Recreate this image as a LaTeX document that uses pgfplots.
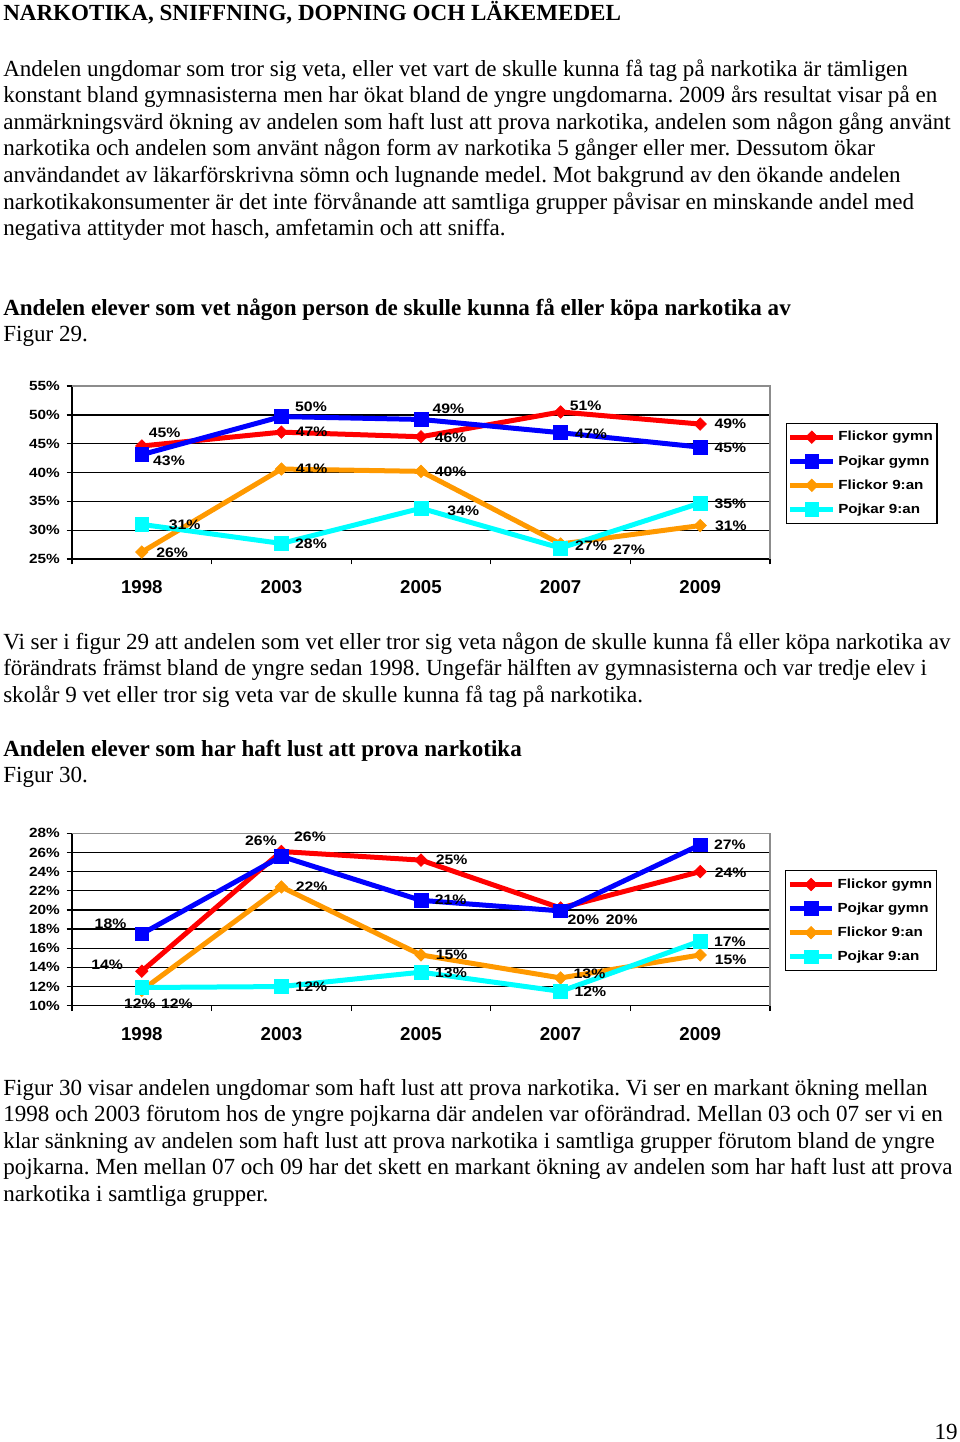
\documentclass[border=0pt]{standalone}
\usepackage{fontspec}
\setmainfont{Liberation Serif}
\newfontfamily\chartw{Liberation Sans}[FakeStretch=1.15]
\newfontfamily\chartn{Liberation Sans}
\usepackage{pgfplots}
\pgfplotsset{compat=1.18}
\frenchspacing
\definecolor{cred}{RGB}{255,0,0}
\definecolor{cblue}{RGB}{0,0,255}
\definecolor{corange}{RGB}{255,153,0}
\definecolor{ccyan}{RGB}{0,255,255}
\newcommand\bodyfont{\fontsize{17.3pt}{19.9pt}\selectfont}
\newcommand\tl[2]{\node[anchor=base west,inner sep=0pt,font=\bodyfont] at ({3*0.75pt},{-#1*0.75pt}) {#2};}
\newcommand\tlb[2]{\node[anchor=base west,inner sep=0pt,font=\bodyfont\bfseries] at ({3*0.75pt},{-#1*0.75pt}) {#2};}
\newcommand\dlfont{\chartw\bfseries\fontsize{10.3pt}{12pt}\selectfont}
\newcommand\dl[3]{\node[font=\dlfont,inner sep=0pt] at (axis cs:#1,#2) {#3\%};}
\pgfplotsset{mychart/.style={
  scale only axis, width=523.5pt,
  xmin=-0.5, xmax=4.5,
  axis x line*=bottom, axis y line*=left,
  axis line style={black,line width=1pt},
  tick align=outside, major tick length=4pt,
  tick style={black,line width=1pt},
  xtick={-0.5,0.5,1.5,2.5,3.5,4.5}, xticklabels={,,,,,},
  extra x ticks={0,1,2,3,4},
  extra x tick labels={1998,2003,2005,2007,2009},
  extra x tick style={major tick length=0pt, xticklabel style={font=\chartn\bfseries\fontsize{14pt}{16pt}\selectfont, anchor=base, yshift=-26pt}},
  ymajorgrids, grid style={black,line width=1pt},
  yticklabel style={font=\chartw\bfseries\fontsize{10pt}{11pt}\selectfont, anchor=east, inner sep=0pt, xshift=-5pt},
  extra y tick style={grid=none},
  clip=false,
  legend style={draw=black, line width=1pt, font=\chartw\bfseries\fontsize{9.9pt}{11pt}\selectfont, anchor=north west, row sep=5.4pt, inner xsep=1.2pt, inner ysep=4pt},
  legend cell align=left,
  legend image code/.code={\draw[mark repeat=2,mark phase=2,#1] plot coordinates {(0pt,0pt) (16pt,0pt) (32pt,0pt)};},
}}
\pgfplotsset{
 sred/.style={cred, line width=3.75pt, mark=square*, mark size=3.3pt, mark options={rotate=45, solid, line width=0.5pt}},
 sblue/.style={cblue, line width=3.75pt, mark=square*, mark size=5.2pt, mark options={solid, line width=0.5pt}},
 sorange/.style={corange, line width=3.75pt, mark=square*, mark size=3.3pt, mark options={rotate=45, solid, line width=0.5pt}},
 scyan/.style={ccyan, line width=3.75pt, mark=square*, mark size=5.2pt, mark options={solid, line width=0.5pt}},
}
\begin{document}
\begin{tikzpicture}
\useasboundingbox (0pt,0pt) rectangle (720pt,-1081.5pt);
\tlb{21}{NARKOTIKA, SNIFFNING, DOPNING OCH LÄKEMEDEL}
\tl{76}{Andelen ungdomar som tror sig veta, eller vet vart de skulle kunna få tag på narkotika är tämligen}
\tl{102.6}{konstant bland gymnasisterna men har ökat bland de yngre ungdomarna. 2009 års resultat visar på en}
\tl{129.2}{anmärkningsvärd ökning av andelen som haft lust att prova narkotika, andelen som någon gång använt}
\tl{155.8}{narkotika och andelen som använt någon form av narkotika 5 gånger eller mer. Dessutom ökar}
\tl{182.4}{användandet av läkarförskrivna sömn och lugnande medel. Mot bakgrund av den ökande andelen}
\tl{209}{narkotikakonsumenter är det inte förvånande att samtliga grupper påvisar en minskande andel med}
\tl{235.6}{negativa attityder mot hasch, amfetamin och att sniffa.}
\tlb{315}{Andelen elever som vet någon person de skulle kunna få eller köpa narkotika av}
\tl{341.5}{Figur 29.}
\tl{649}{Vi ser i figur 29 att andelen som vet eller tror sig veta någon de skulle kunna få eller köpa narkotika av}
\tl{675.6}{förändrats främst bland de yngre sedan 1998. Ungefär hälften av gymnasisterna och var tredje elev i}
\tl{702.2}{skolår 9 vet eller tror sig veta var de skulle kunna få tag på narkotika.}
\tlb{756}{Andelen elever som har haft lust att prova narkotika}
\tl{782.6}{Figur 30.}
\tl{1095}{Figur 30 visar andelen ungdomar som haft lust att prova narkotika. Vi ser en markant ökning mellan}
\tl{1121.6}{1998 och 2003 förutom hos de yngre pojkarna där andelen var oförändrad. Mellan 03 och 07 ser vi en}
\tl{1148.2}{klar sänkning av andelen som haft lust att prova narkotika i samtliga grupper förutom bland de yngre}
\tl{1174.8}{pojkarna. Men mellan 07 och 09 har det skett en markant ökning av andelen som har haft lust att prova}
\tl{1201.4}{narkotika i samtliga grupper.}
\node[anchor=base east,inner sep=0pt,font=\bodyfont] at ({958*0.75pt},{-1439*0.75pt}) {19};

\begin{axis}[mychart, at={(54pt,-419.25pt)}, anchor=south west, height=129.75pt,
  ymin=25, ymax=55, ytick={25,30,35,40,45,50},
  yticklabels={25\%,30\%,35\%,40\%,45\%,50\%},
  extra y ticks={55}, extra y tick labels={55\%},
  legend style={at={(1.0225,0.788)}}]
\addplot[sred] coordinates {(0,44.6) (1,47.0) (2,46.2) (3,50.5) (4,48.4)};
\addplot[sblue] coordinates {(0,43.1) (1,49.7) (2,49.2) (3,46.9) (4,44.4)};
\addplot[sorange] coordinates {(0,26.2) (1,40.6) (2,40.2) (3,27.6) (4,30.8)};
\addplot[scyan] coordinates {(0,31.0) (1,27.7) (2,33.8) (3,26.9) (4,34.7)};
\legend{Flickor gymn,Pojkar gymn,Flickor 9:an,Pojkar 9:an}
\draw[black!45, line width=1pt] (rel axis cs:0,1) -- (rel axis cs:1,1) -- (rel axis cs:1,0);
\dl{0.163}{46.97}{45}
\dl{0.195}{42.05}{43}
\dl{0.307}{30.9}{31}
\dl{0.218}{26.09}{26}
\dl{1.212}{51.41}{50}
\dl{1.216}{47.07}{47}
\dl{1.216}{40.73}{41}
\dl{1.212}{27.72}{28}
\dl{2.196}{51.01}{49}
\dl{2.213}{46.03}{46}
\dl{2.213}{40.14}{40}
\dl{2.303}{33.32}{34}
\dl{3.180}{51.58}{51}
\dl{3.218}{46.8}{47}
\dl{3.218}{27.25}{27}
\dl{3.490}{26.56}{27}
\dl{4.216}{48.41}{49}
\dl{4.216}{44.37}{45}
\dl{4.216}{34.66}{35}
\dl{4.220}{30.77}{31}
\end{axis}

\begin{axis}[mychart, at={(54pt,-754.275pt)}, anchor=south west, height=129.3pt,
  ymin=10, ymax=28, ytick={10,12,14,16,18,20,22,24,26},
  yticklabels={10\%,12\%,14\%,16\%,18\%,20\%,22\%,24\%,26\%},
  extra y ticks={28}, extra y tick labels={28\%},
  legend style={at={(1.0215,0.787)}}]
\addplot[sred] coordinates {(0,13.6) (1,26.1) (2,25.2) (3,20.2) (4,24.0)};
\addplot[sblue] coordinates {(0,17.5) (1,25.6) (2,21.0) (3,19.9) (4,26.8)};
\addplot[sorange] coordinates {(0,11.6) (1,22.4) (2,15.3) (3,12.9) (4,15.3)};
\addplot[scyan] coordinates {(0,11.9) (1,12.0) (2,13.5) (3,11.5) (4,16.75)};
\legend{Flickor gymn,Pojkar gymn,Flickor 9:an,Pojkar 9:an}
\draw[black!45, line width=1pt] (rel axis cs:0,1) -- (rel axis cs:1,1) -- (rel axis cs:1,0);
\dl{0.854}{27.2}{26}
\dl{1.205}{27.65}{26}
\dl{-0.224}{18.53}{18}
\dl{-0.248}{14.25}{14}
\dl{-0.013}{10.25}{12}
\dl{0.252}{10.25}{12}
\dl{1.217}{22.42}{22}
\dl{1.214}{11.98}{12}
\dl{2.220}{25.28}{25}
\dl{2.213}{21.04}{21}
\dl{2.220}{15.3}{15}
\dl{2.215}{13.49}{13}
\dl{3.163}{18.95}{20}
\dl{3.438}{18.95}{20}
\dl{3.207}{13.38}{13}
\dl{3.213}{11.46}{12}
\dl{4.213}{26.85}{27}
\dl{4.218}{23.93}{24}
\dl{4.213}{16.68}{17}
\dl{4.218}{14.77}{15}
\end{axis}
\end{tikzpicture}
\end{document}
